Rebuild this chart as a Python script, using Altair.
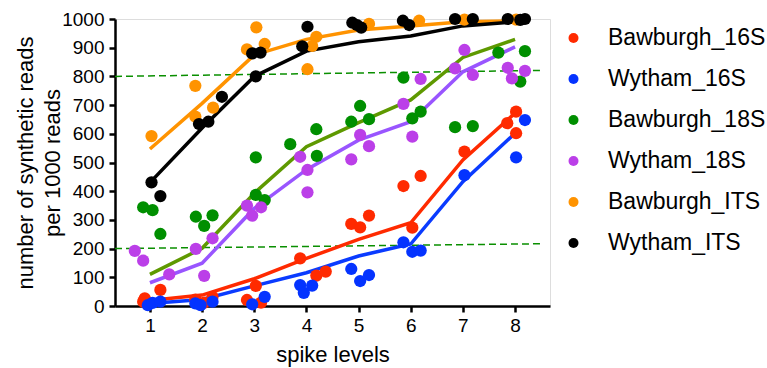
import altair as alt
import pandas as pd

series = ["Bawburgh_16S", "Wytham_16S", "Bawburgh_18S", "Wytham_18S", "Bawburgh_ITS", "Wytham_ITS"]
point_colors = ["#FF2A00", "#0433FF", "#008F00", "#BB3FE8", "#FF9300", "#000000"]
line_colors = ["#FF2A00", "#0A3BFF", "#5E9900", "#9955FF", "#FF9300", "#000000"]

levels = [1, 2, 3, 4, 5, 6, 7, 8]

# point readings (jittered spike level, value)
pts_Bawburgh_16S_x = [0.87, 0.90, 1.20, 1.87, 2.04, 2.20, 2.86, 3.03, 3.13, 3.88, 4.19, 4.37, 4.86, 5.03, 5.20, 5.86, 6.03, 6.19, 7.03, 7.85, 8.02, 8.02]
pts_Bawburgh_16S_y = [15, 27, 56, 22, 12, 32, 21, 70, 12, 166, 106, 120, 286, 274, 315, 418, 273, 453, 538, 637, 677, 602]
pts_Wytham_16S_x = [0.96, 1.05, 1.20, 1.87, 1.97, 2.20, 2.96, 3.20, 3.88, 3.95, 4.11, 4.86, 5.03, 5.20, 5.86, 6.03, 6.19, 7.03, 8.02, 8.19]
pts_Wytham_16S_y = [3, 11, 15, 9, 3, 15, 6, 32, 73, 46, 71, 129, 87, 108, 222, 189, 193, 456, 518, 648]
pts_Bawburgh_18S_x = [0.87, 1.05, 1.20, 1.88, 2.04, 2.20, 3.03, 3.03, 3.20, 3.69, 4.19, 4.20, 4.86, 5.03, 5.20, 5.86, 6.03, 6.19, 6.85, 7.19, 7.68, 8.10, 8.19]
pts_Bawburgh_18S_y = [344, 334, 251, 311, 279, 316, 518, 387, 369, 564, 616, 523, 642, 697, 651, 796, 654, 677, 623, 627, 883, 782, 888]
pts_Wytham_18S_x = [0.71, 0.87, 1.37, 1.88, 2.04, 2.20, 2.86, 2.96, 3.13, 3.88, 4.02, 4.02, 4.86, 5.03, 5.20, 5.86, 6.03, 6.19, 6.85, 7.03, 7.19, 7.86, 7.94, 8.19]
pts_Wytham_18S_y = [192, 158, 110, 199, 105, 236, 350, 315, 344, 520, 474, 396, 511, 596, 557, 704, 590, 791, 828, 892, 805, 830, 793, 819]
pts_Bawburgh_ITS_x = [1.03, 1.87, 1.87, 2.21, 2.86, 3.04, 3.20, 4.02, 4.11, 4.19, 5.20, 6.16, 7.03, 8.02]
pts_Bawburgh_ITS_y = [592, 767, 660, 691, 894, 971, 913, 825, 906, 938, 983, 994, 998, 998]
pts_Wytham_ITS_x = [1.03, 1.20, 1.94, 2.12, 2.38, 2.96, 3.03, 3.12, 3.92, 4.02, 4.88, 4.97, 5.05, 5.85, 5.97, 6.85, 7.19, 7.86, 8.10, 8.19]
pts_Wytham_ITS_y = [431, 383, 634, 642, 729, 880, 800, 883, 905, 973, 987, 979, 970, 994, 979, 1000, 1000, 1000, 997, 1000]

# connecting line values per spike level
line_Bawburgh_16S = [19, 38, 95, 166, 232, 290, 509, 672]
line_Wytham_16S = [9, 23, 70, 116, 174, 216, 433, 602]
line_Bawburgh_18S = [110, 201, 393, 555, 639, 718, 866, 929]
line_Wytham_18S = [81, 149, 340, 475, 578, 642, 816, 903]
line_Bawburgh_ITS = [547, 706, 875, 929, 962, 976, 990, 993]
line_Wytham_ITS = [430, 620, 800, 888, 921, 941, 976, 990]

# dashed reference lines
ref_x = [0.33, 8.55]
ref_low = [200, 217]
ref_high = [800, 821]

pts = {
    "Bawburgh_16S": (pts_Bawburgh_16S_x, pts_Bawburgh_16S_y),
    "Wytham_16S": (pts_Wytham_16S_x, pts_Wytham_16S_y),
    "Bawburgh_18S": (pts_Bawburgh_18S_x, pts_Bawburgh_18S_y),
    "Wytham_18S": (pts_Wytham_18S_x, pts_Wytham_18S_y),
    "Bawburgh_ITS": (pts_Bawburgh_ITS_x, pts_Bawburgh_ITS_y),
    "Wytham_ITS": (pts_Wytham_ITS_x, pts_Wytham_ITS_y),
}
lines = {
    "Bawburgh_16S": line_Bawburgh_16S,
    "Wytham_16S": line_Wytham_16S,
    "Bawburgh_18S": line_Bawburgh_18S,
    "Wytham_18S": line_Wytham_18S,
    "Bawburgh_ITS": line_Bawburgh_ITS,
    "Wytham_ITS": line_Wytham_ITS,
}

prow = []
for i, s in enumerate(series):
    xs, ys = pts[s]
    for x, y in zip(xs, ys):
        prow.append({"series": s, "order": i, "x": x, "y": y})
pdf = pd.DataFrame(prow)

lrow = []
for i, s in enumerate(series):
    for lv, v in zip(levels, lines[s]):
        lrow.append({"lseries": s, "x": lv, "y": v})
ldf = pd.DataFrame(lrow)

rrow = []
for name, ys in (("low", ref_low), ("high", ref_high)):
    for x, y in zip(ref_x, ys):
        rrow.append({"ref": name, "x": x, "y": y})
rdf = pd.DataFrame(rrow)

FONT = "Liberation Sans"

xscale = alt.Scale(domain=[0.33, 8.67], nice=False, zero=False)
yscale = alt.Scale(domain=[0, 1000], nice=False)

xaxis = alt.Axis(values=levels, title="spike levels", grid=False, labelFontSize=19,
                 titleFontSize=22, titleFontWeight="normal", labelPadding=4, titlePadding=9,
                 domainWidth=2.5, tickWidth=2.5, tickSize=6, domainColor="black",
                 tickColor="black", labelColor="black", titleColor="black",
                 labelFont=FONT, titleFont=FONT)
yaxis = alt.Axis(values=list(range(0, 1001, 100)), format="d",
                 title=["number of synthetic reads", "per 1000 reads"],
                 grid=False, labelFontSize=19, titleFontSize=22, titleFontWeight="normal",
                 labelPadding=5, titlePadding=-3, domainWidth=2.5, tickWidth=2.5, tickSize=6,
                 domainColor="black", tickColor="black", labelColor="black", titleColor="black",
                 labelFont=FONT, titleFont=FONT, titleLineHeight=27)

ref = alt.Chart(rdf).mark_line(color="#0A8F00", strokeDash=[7, 4], strokeWidth=1.5).encode(
    x=alt.X("x:Q", scale=xscale, axis=xaxis),
    y=alt.Y("y:Q", scale=yscale, axis=yaxis),
    detail="ref:N",
)

line = alt.Chart(ldf).mark_line(strokeWidth=3.5).encode(
    x=alt.X("x:Q", scale=xscale, axis=xaxis),
    y=alt.Y("y:Q", scale=yscale, axis=yaxis),
    color=alt.Color("lseries:N", scale=alt.Scale(domain=series, range=line_colors), legend=None),
)

points = alt.Chart(pdf).mark_circle(size=150, opacity=1).encode(
    x=alt.X("x:Q", scale=xscale, axis=xaxis),
    y=alt.Y("y:Q", scale=yscale, axis=yaxis),
    color=alt.Color("series:N", scale=alt.Scale(domain=series, range=point_colors),
                    legend=alt.Legend(title=None, orient="none", legendX=447, legendY=7.5,
                                      symbolType="circle", symbolSize=100, symbolStrokeWidth=0,
                                      labelFontSize=23, labelFont=FONT, labelColor="black",
                                      labelOffset=23, rowPadding=17)),
    order="order:Q",
)

chart = alt.layer(ref, line, points).resolve_scale(color="independent").properties(
    width=435, height=287,
    autosize=alt.AutoSizeParams(type="none"),
    padding={"left": 115, "top": 19, "right": 217, "bottom": 62},
).configure_view(stroke=None).configure(background="white")

chart.save("out.html", embed_options={"renderer": "svg", "actions": False})
